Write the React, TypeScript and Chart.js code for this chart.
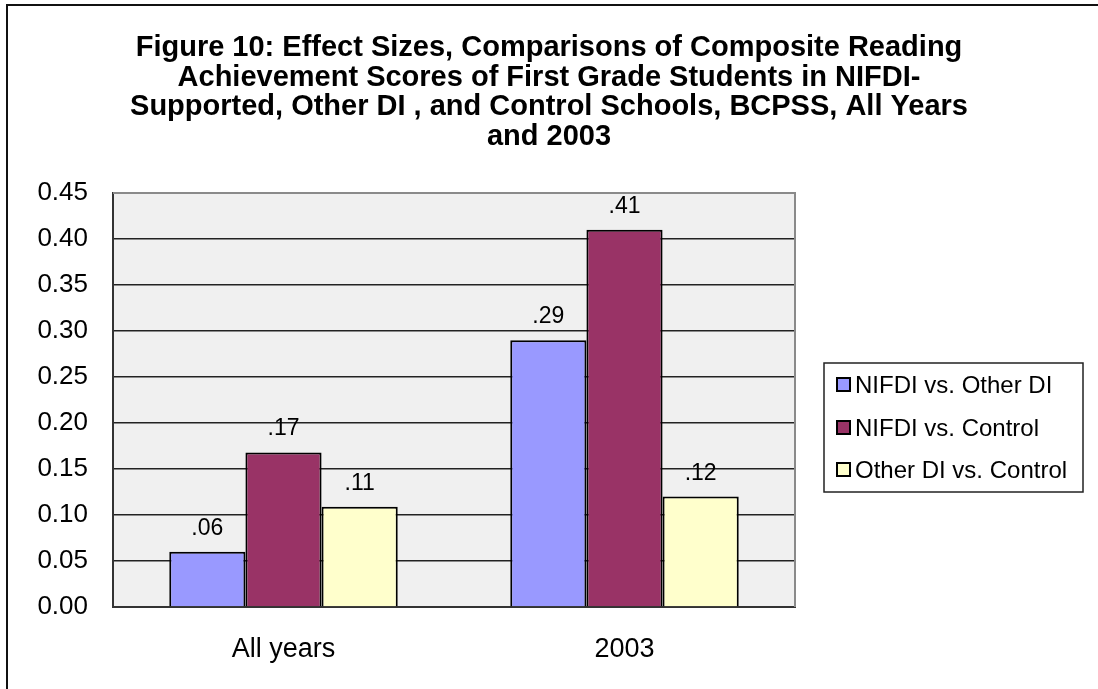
import React, { useEffect, useRef } from 'react';
import { Chart, ChartConfiguration, registerables } from 'chart.js';

Chart.register(...registerables);

const FONT = '"Liberation Sans", Arial, Helvetica, sans-serif';

const titleLines = [
  'Figure 10: Effect Sizes, Comparisons of Composite Reading',
  'Achievement Scores of First Grade Students in NIFDI-',
  'Supported, Other DI , and Control Schools, BCPSS, All Years',
  'and 2003',
];

const categories = ['All years', '2003'];
const seriesNames = ['NIFDI vs. Other DI', 'NIFDI vs. Control', 'Other DI vs. Control'];
const seriesColors = ['#9999FF', '#993366', '#FFFFCC'];

const otherDiValues = [0.06, 0.29];
const controlValues = [0.168, 0.41];
const otherDiControlValues = [0.109, 0.12];

const yMin = 0;
const yMax = 0.45;
const yStep = 0.05;

// title over the whole canvas, grey plot area, lighter top/right frame, legend box and value labels
const decorations = {
  id: 'decorations',
  beforeDraw(chart: Chart) {
    const { ctx, chartArea, width } = chart;
    ctx.save();
    ctx.fillStyle = '#F0F0F0';
    ctx.fillRect(chartArea.left, chartArea.top, chartArea.right - chartArea.left, chartArea.bottom - chartArea.top);

    ctx.fillStyle = '#000';
    ctx.font = `bold 29px ${FONT}`;
    ctx.textAlign = 'center';
    ctx.textBaseline = 'middle';
    titleLines.forEach((line, i) => {
      ctx.fillText(line, width / 2, 48 + i * 29.7);
    });
    ctx.restore();
  },
  beforeDatasetsDraw(chart: Chart) {
    const { ctx, chartArea } = chart;
    ctx.save();
    ctx.strokeStyle = '#8a8a8a';
    ctx.lineWidth = 2;
    ctx.beginPath();
    ctx.moveTo(chartArea.left, chartArea.top);
    ctx.lineTo(chartArea.right, chartArea.top);
    ctx.lineTo(chartArea.right, chartArea.bottom);
    ctx.stroke();
    ctx.restore();
  },
  afterDatasetsDraw(chart: Chart) {
    const { ctx } = chart;
    ctx.save();
    ctx.font = `23px ${FONT}`;
    ctx.fillStyle = '#000';
    ctx.textAlign = 'center';
    ctx.textBaseline = 'alphabetic';
    chart.data.datasets.forEach((ds, i) => {
      const meta = chart.getDatasetMeta(i);
      meta.data.forEach((el: any, j: number) => {
        const v = ds.data[j] as number;
        const txt = v.toFixed(2).replace(/^0/, '');
        ctx.fillText(txt, el.x, el.y - 17);
      });
    });

    // legend
    const lx = 824;
    const ly = 363;
    const lw = 259;
    const lh = 129;
    ctx.fillStyle = '#fff';
    ctx.fillRect(lx, ly, lw, lh);
    ctx.strokeStyle = '#222';
    ctx.lineWidth = 1.5;
    ctx.strokeRect(lx, ly, lw, lh);
    const rows = [385, 428, 470];
    ctx.font = `24px ${FONT}`;
    ctx.textAlign = 'left';
    ctx.textBaseline = 'middle';
    chart.data.datasets.forEach((ds, i) => {
      const cy = rows[i];
      ctx.fillStyle = ds.backgroundColor as string;
      ctx.fillRect(837, cy - 7, 13, 13);
      ctx.strokeStyle = '#000';
      ctx.lineWidth = 2;
      ctx.strokeRect(837, cy - 7, 13, 13);
      ctx.fillStyle = '#000';
      ctx.fillText(ds.label as string, 855, cy + 1);
    });
    ctx.restore();
  },
};

const EffectSizeChart: React.FC = () => {
  const chartRef = useRef<HTMLCanvasElement>(null);
  const chartInstanceRef = useRef<Chart | null>(null);

  useEffect(() => {
    if (!chartRef.current) return;
    if (chartInstanceRef.current) {
      chartInstanceRef.current.destroy();
    }
    const ctx = chartRef.current.getContext('2d');
    if (!ctx) return;

    const values = [otherDiValues, controlValues, otherDiControlValues];

    const config: ChartConfiguration = {
      type: 'bar',
      data: {
        labels: categories,
        datasets: seriesNames.map((name, i) => ({
          label: name,
          data: values[i],
          backgroundColor: seriesColors[i],
          borderColor: '#000',
          borderWidth: 2,
          categoryPercentage: 0.67,
          barPercentage: 1.0,
        })),
      },
      options: {
        responsive: false,
        animation: false,
        devicePixelRatio: 1,
        layout: {
          padding: { left: 0, right: 303, top: 193, bottom: 0 },
        },
        plugins: {
          legend: { display: false },
          tooltip: { enabled: false },
          title: { display: false },
        },
        scales: {
          x: {
            grid: { display: false, drawTicks: false },
            border: { display: true, color: '#333', width: 2 },
            ticks: {
              color: '#000',
              padding: 26,
              font: { family: FONT, size: 27 },
            },
            afterFit(scale: any) {
              scale.height = 82;
            },
          },
          y: {
            min: yMin,
            max: yMax,
            grid: {
              drawTicks: false,
              lineWidth: 1.4,
              color: (c: any) => (c.tick && c.tick.value >= yMax - 0.001 ? 'rgba(0,0,0,0)' : '#222'),
            },
            border: { display: true, color: '#333', width: 2 },
            ticks: {
              stepSize: yStep,
              color: '#000',
              padding: 25,
              font: { family: FONT, size: 26 },
              callback: (v: any) => Number(v).toFixed(2),
            },
            afterFit(scale: any) {
              scale.width = 113;
            },
          },
        },
      },
      plugins: [decorations],
    };

    chartInstanceRef.current = new Chart(ctx, config);

    return () => {
      if (chartInstanceRef.current) {
        chartInstanceRef.current.destroy();
        chartInstanceRef.current = null;
      }
    };
  }, []);

  return (
    <div style={{ position: 'fixed', left: 0, top: 0, width: 1098, height: 689, overflow: 'hidden', background: '#fff' }}>
      <canvas ref={chartRef} width={1098} height={689} style={{ position: 'absolute', left: 0, top: 0 }} />
      <div
        style={{
          position: 'absolute',
          left: 6,
          top: 4,
          width: 1200,
          height: 800,
          borderLeft: '2px solid #111',
          borderTop: '2px solid #111',
          pointerEvents: 'none',
        }}
      />
    </div>
  );
};

export default function App() {
  return <EffectSizeChart />;
}
